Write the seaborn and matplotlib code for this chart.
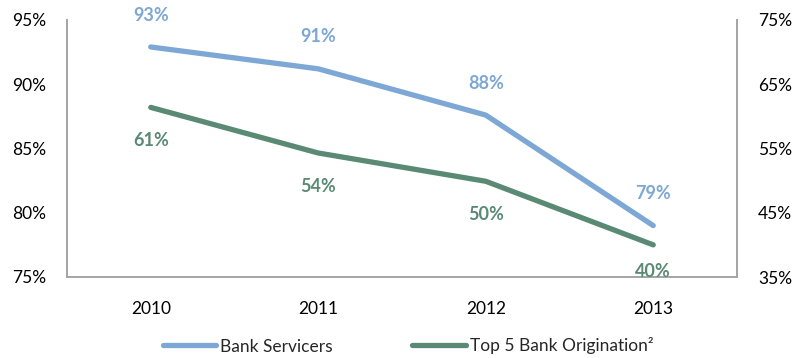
import matplotlib
matplotlib.use("Agg")
import matplotlib.pyplot as plt
import seaborn as sns
import pandas as pd
from matplotlib.lines import Line2D

years = ["2010", "2011", "2012", "2013"]
bank_servicers = [92.9, 91.2, 87.6, 79.0]
bank_servicers_labels = ["93%", "91%", "88%", "79%"]
top5_origination = [61.4, 54.3, 49.9, 40.0]
top5_labels = ["61%", "54%", "50%", "40%"]
left_ticks = [75, 80, 85, 90, 95]
right_ticks = [35, 45, 55, 65, 75]

blue = "#7DA7D4"
green = "#5A8A74"

sns.set_theme(style="white")
plt.rcParams['font.family'] = ['Lato', 'DejaVu Sans']

fs = 12.5

fig = plt.figure(figsize=(7.96, 3.58), dpi=100)
ax = fig.add_axes([67/796, 1 - 277/358, (737-67)/796, (277-20)/358])
ax2 = ax.twinx()

df1 = pd.DataFrame({"x": range(len(years)), "y": bank_servicers})
df2 = pd.DataFrame({"x": range(len(years)), "y": top5_origination})
sns.lineplot(data=df1, x="x", y="y", ax=ax, color=blue, linewidth=3.8, solid_capstyle="round")
sns.lineplot(data=df2, x="x", y="y", ax=ax2, color=green, linewidth=3.8, solid_capstyle="round")

ax.set_xlim(-0.5, 3.5)
ax.set_ylim(75, 95)
ax2.set_ylim(35, 75)
ax.set_xticks(range(len(years)))
ax.set_xticklabels(years)
ax.set_yticks(left_ticks)
ax.set_yticklabels([f"{t}%" for t in left_ticks])
ax2.set_yticks(right_ticks)
ax2.set_yticklabels([f"{t}%" for t in right_ticks])
for a in (ax, ax2):
    a.set_xlabel("")
    a.set_ylabel("")
    a.tick_params(axis="both", length=0, labelsize=fs, colors="black")
    a.spines["top"].set_visible(False)
    for s in ("left", "right", "bottom"):
        a.spines[s].set_color("#A6A6A6")
        a.spines[s].set_linewidth(1.3)
ax.tick_params(axis="y", pad=15)
ax2.tick_params(axis="y", pad=15)
ax.tick_params(axis="x", pad=17)

for i, (v, lab) in enumerate(zip(bank_servicers, bank_servicers_labels)):
    ax.annotate(lab, (i, v), xytext=(0, 23), textcoords="offset points",
                ha="center", va="center", color=blue, fontsize=13, fontweight="bold")
for i, (v, lab) in enumerate(zip(top5_origination, top5_labels)):
    ax2.annotate(lab, (i, v), xytext=(0, -24 if i < 3 else -19), textcoords="offset points",
                 ha="center", va="center", color=green, fontsize=13, fontweight="bold")

handles = [Line2D([], [], color=blue, linewidth=3.8), Line2D([], [], color=green, linewidth=3.8)]
fig.legend(handles, ["Bank Servicers", "Top 5 Bank Origination²"], loc="center",
           bbox_to_anchor=(408/796, 1 - 346/358), ncol=2, frameon=False, fontsize=fs,
           handlelength=3.1, handletextpad=0.2, columnspacing=4.6)

fig.savefig("out.png", dpi=100)
